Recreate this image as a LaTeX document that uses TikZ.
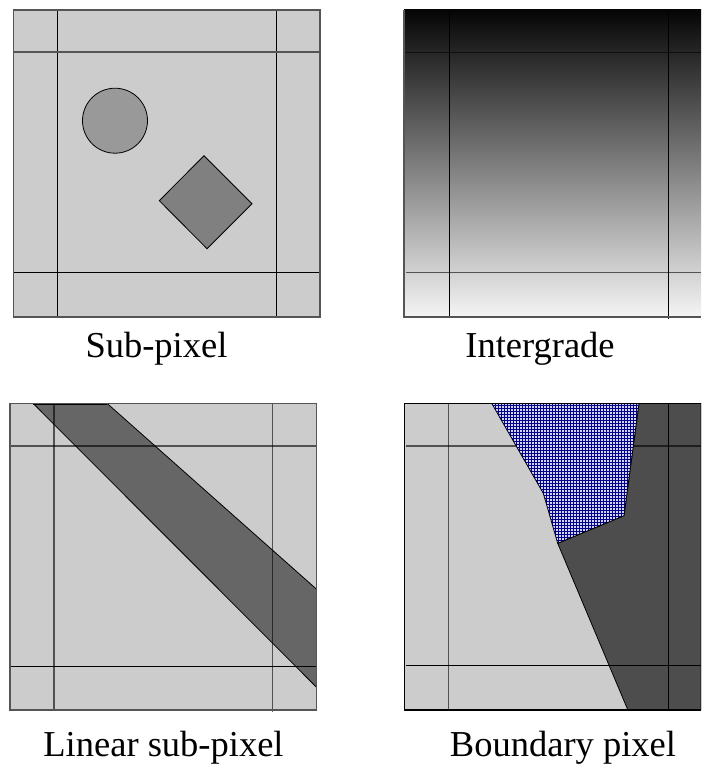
\documentclass[tikz,border=0pt]{standalone}
\usepackage{fontspec}
\setmainfont{Liberation Serif}
\usetikzlibrary{patterns}
\definecolor{cellgray}{HTML}{CCCCCC}
\definecolor{framegray}{HTML}{555555}
\definecolor{bandgray}{HTML}{666666}
\definecolor{darkregion}{HTML}{4D4D4D}
\definecolor{circlegray}{HTML}{999999}
\definecolor{diamondgray}{HTML}{808080}
\definecolor{hatchblue}{HTML}{00008C}
\definecolor{hatchback}{HTML}{D4D4F2}
\tikzset{
  frame/.style={draw=framegray, line width=1.2pt},
  gridline/.style={draw=black, line width=1pt},
  softline/.style={draw=black, draw opacity=0.6, line width=1.4pt},
  shapeline/.style={draw=black, line width=0.8pt},
  caption/.style={anchor=base, inner sep=0pt, font=\fontsize{36.5}{40}\selectfont},
}
\begin{document}
\begin{tikzpicture}[x=1pt, y=-1pt]
\useasboundingbox (0,0) rectangle (701,765);

% ---- Sub-pixel panel ----
\fill[cellgray] (13.5,10) rectangle (320,317);
\draw[gridline] (57,9) -- (57,318);
\draw[gridline] (276,10) -- (276,318);
\draw[frame] (13.5,52) -- (320,52);
\draw[gridline] (13.5,272) -- (320,272);
\draw[frame] (13.5,10) rectangle (320,317);
\node[circle, minimum size=65pt, inner sep=0pt, fill=circlegray, shapeline] (disc) at (115,120.7) {};
\path[fill=diamondgray, shapeline] (204,155.7) -- (252,203.7) -- (207,248.7) -- (159.3,200.7) -- cycle;
\node[caption] (lblsub) at (156.5,357.5) {Sub-pixel};

% ---- Intergrade panel ----
\begin{scope}
  \clip (404,10) rectangle (701,317);
  \shade[top color=black!98, middle color=black!62, bottom color=black!4] (404,10) rectangle (701,317);
  \draw[softline] (406,52.7) -- (701,52.7);
  \draw[softline] (406,272.7) -- (701,272.7);
\end{scope}
\draw[gridline] (449.3,12) -- (449.3,318);
\draw[gridline] (668.3,12) -- (668.3,318.5);
\draw[frame] (404,10) -- (404,317) -- (701,317);
\node[caption] (lblint) at (540,357.5) {Intergrade};

% ---- Linear sub-pixel panel ----
\fill[cellgray] (10,403.3) rectangle (316.3,710);
\path[fill=bandgray] (33,403.3) -- (107,403.3) -- (316.3,589) -- (316.3,687) -- cycle;
\draw[softline] (54,403.3) -- (54,710);
\draw[softline] (272.7,403.3) -- (272.7,711.7);
\draw[softline] (10,446) -- (316.3,446);
\draw[gridline] (10,666) -- (316.3,666);
\draw[shapeline] (33,403.3) -- (316.3,687);
\draw[shapeline] (107,403.3) -- (316.3,589);
\draw[black, line width=2pt] (33,403.8) -- (107,403.8);
\draw[frame] (10,403.3) rectangle (316.3,710);
\node[caption] (lbllin) at (163.5,756.5) {Linear sub-pixel};

% ---- Boundary pixel panel ----
\begin{scope}
  \clip (404.3,403.3) rectangle (701,710);
  \fill[cellgray] (404.3,403.3) rectangle (701,710);
  \path[fill=darkregion, shapeline] (639,403.3) -- (701,403.3) -- (701,710) -- (628.3,711) -- (557.7,543.3) -- (624,515.7) -- cycle;
  \draw[softline] (448.3,403.3) -- (448.3,712);
  \draw[gridline] (668,403.3) -- (668,712);
  \draw[softline] (406,446) -- (701,446);
  \draw[gridline] (406,665.7) -- (701,665.7);
  \path[fill=hatchback] (491.7,403.3) -- (639,403.3) -- (624,515.7) -- (557.7,543.3) -- (543.3,493.3) -- cycle;
  \path[pattern=grid, pattern color=hatchblue] (491.7,403.3) -- (639,403.3) -- (624,515.7) -- (557.7,543.3) -- (543.3,493.3) -- cycle;
  \draw[shapeline] (491.7,403.3) -- (543.3,493.3) -- (557.7,543.3) -- (624,515.7) -- (639,403.3);
\end{scope}
\draw[frame, draw=black] (701,403.3) -- (404.3,403.3) -- (404.3,710) -- (701,710);
\node[caption] (lblbnd) at (563,756.5) {Boundary pixel};
\end{tikzpicture}
\end{document}
